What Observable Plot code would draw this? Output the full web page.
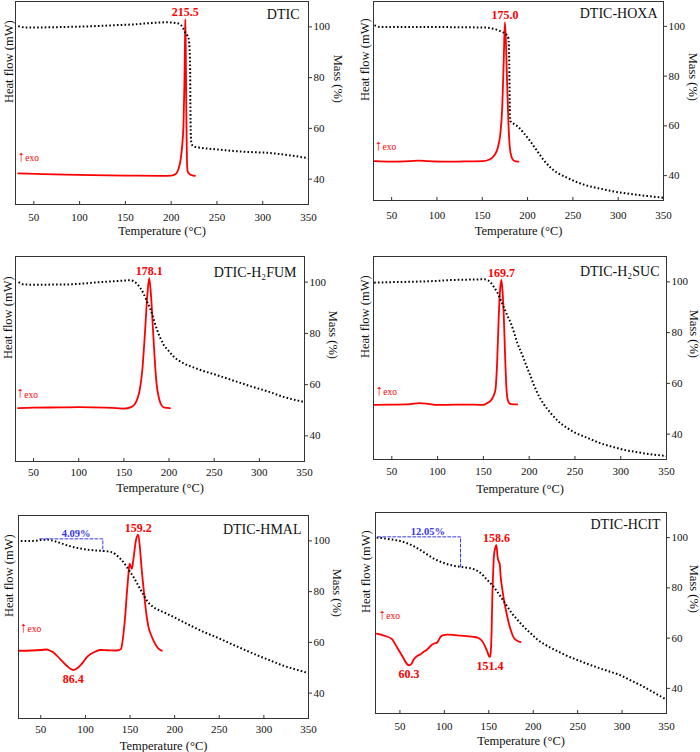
<!DOCTYPE html>
<html>
<head>
<meta charset="utf-8">
<script src="https://cdn.jsdelivr.net/npm/d3@7"></script>
<script src="https://cdn.jsdelivr.net/npm/@observablehq/plot@0.6"></script>
<style>
  body { margin: 0; background: #fff; }
  #wrap { position: relative; width: 700px; height: 752px; font-family: "Liberation Serif", "Times New Roman", serif; }
  #wrap > div { position: absolute; }
  #wrap svg { display: block; font-family: "Liberation Serif", "Times New Roman", serif !important; }
  #wrap svg text { font-family: "Liberation Serif", "Times New Roman", serif; }
</style>
</head>
<body>
<div id="wrap"></div>
<script>
// ---------- shared tick labels ----------
const xTicks = [50, 100, 150, 200, 250, 300, 350];
const massTicks = [40, 60, 80, 100];

// ---------- DTIC ----------
const dticTgaT = [33, 40, 60, 88, 110, 141, 160, 177, 195, 206, 210, 213, 215, 217, 219, 220, 220.7, 221, 221.4, 222, 224, 230, 250, 268, 290, 305, 320, 335, 350];
const dticMass = [100.3, 99.8, 99.8, 100, 100.2, 100.7, 101, 101.5, 101.8, 101.5, 101, 99.5, 98, 97, 95.5, 92, 84, 70, 58, 54.5, 53, 52.5, 51.7, 51.1, 50.6, 50.4, 49.8, 49.1, 48.2];
const dticDscT = [33, 60, 100, 150, 190, 200, 205, 208, 210, 212, 213.5, 214.5, 215.2, 215.5, 216, 216.6, 217.2, 218, 220, 223, 226];
const dticHeat = [42.3, 42.0, 41.7, 41.4, 41.3, 41.4, 42.0, 44, 47, 53, 62, 78, 97, 103, 90, 65, 48, 43, 42, 41.5, 41.3];
const dticPeaks = [215.5];

// ---------- DTIC-HOXA ----------
const hoxaTgaT = [31, 33, 36, 50, 80, 110, 140, 155, 160, 165, 170, 174, 177, 179, 179.8, 180.3, 181, 185, 190, 196, 203, 211, 218, 226, 235, 244, 253, 262, 272, 281, 290, 300, 310, 320, 335, 350];
const hoxaMass = [100.4, 100.2, 99.8, 99.7, 99.7, 99.7, 99.6, 99.5, 99.2, 98.8, 98.1, 97.4, 96.5, 95, 85, 70, 62, 60.8, 59.5, 57, 53.8, 49.7, 46.2, 43, 40.7, 39.1, 37.6, 36.4, 35.4, 34.7, 34, 33.3, 32.8, 32.3, 31.7, 31.1];
const hoxaDscT = [31, 50, 70, 80, 90, 110, 130, 150, 158, 163, 167, 170, 172, 173.7, 175, 176.3, 177.5, 179, 180.5, 182.5, 185, 190];
const hoxaHeat = [45.8, 45.6, 45.8, 46.0, 45.8, 45.6, 45.7, 45.8, 46.5, 48, 51, 57, 67, 86, 101.7, 92, 76, 60, 51, 47.3, 46, 45.6];
const hoxaPeaks = [175.0];

// ---------- DTIC-H2FUM ----------
const fumTgaT = [33.4, 36, 39, 50, 87, 124, 145, 157, 161, 164.5, 168, 172, 175.5, 179.3, 183, 186.7, 190, 194, 200, 205, 210, 216, 225, 235, 253, 272, 290, 309, 327, 350];
const fumMass = [100, 99.5, 99.1, 99.0, 99.1, 100, 100.5, 100.7, 100.3, 99.3, 97.8, 95.4, 92.5, 89.5, 85.5, 81.5, 78.5, 75.6, 73, 71, 69.6, 68.3, 67, 65.7, 63.7, 61.5, 59.4, 57.4, 55.2, 53.2];
const fumDscT = [33, 50, 80, 100, 130, 142, 150, 158, 162, 165, 167.5, 170.5, 173.3, 176, 178.1, 180, 182.5, 184.5, 186.2, 189, 191.7, 195, 201];
const fumHeat = [50.8, 51.0, 51.1, 51.2, 51.0, 50.8, 50.6, 51.2, 52.3, 54.5, 57.8, 66, 80, 95, 101.6, 95, 80, 68, 60.4, 54.5, 51.9, 51, 50.8];
const fumPeaks = [178.1];

// ---------- DTIC-H2SUC ----------
const sucTgaT = [30.7, 50, 78, 100, 114, 135, 150.7, 155, 158, 161.5, 165.3, 169, 172.5, 176, 179.8, 183.5, 187, 190.7, 194.4, 198, 201.6, 205, 209, 216, 223.5, 232, 241.6, 250, 259.8, 269, 278, 287, 296.2, 305, 314.4, 330, 350];
const sucMass = [99.7, 99.9, 100.1, 100.4, 100.7, 100.9, 101, 100.6, 99.7, 98, 95.8, 92.8, 89.8, 86.8, 83.9, 80, 76, 72.7, 69.4, 66, 62.8, 59.5, 56.2, 51.8, 48.3, 45, 42.4, 40.6, 39.1, 37.7, 36.4, 35.4, 34.5, 33.7, 33.1, 32.2, 31.4];
const sucDscT = [31, 50, 70, 80, 90, 100, 120, 140, 150, 154, 158, 161, 163.2, 165, 166.8, 168.5, 169.7, 171, 172.3, 174, 175.3, 177, 180, 187];
const sucHeat = [51.5, 51.6, 51.8, 52.2, 51.9, 51.5, 51.6, 51.6, 51.5, 52.2, 53.2, 55, 57.5, 68, 86.5, 98, 100.8, 96, 86.5, 68, 57.5, 53, 51.8, 51.7];
const sucPeaks = [169.7];

// ---------- DTIC-HMAL ----------
const malTgaT = [27.6, 35, 41.8, 50, 56.7, 62, 68, 74, 79, 86, 94, 101, 109, 116, 124, 128, 131.4, 135, 139, 142.7, 146.4, 150, 153.8, 157.5, 161.3, 165, 168.8, 172.5, 176.3, 183, 191.2, 200, 210, 219, 228.6, 238, 247.2, 256.5, 265.9, 275, 284.6, 294, 303.3, 312.5, 322, 335, 350];
const malMass = [100, 100, 100, 100.3, 100.5, 100.2, 99.6, 98.9, 98.3, 97.6, 97, 96.6, 96.3, 96.1, 95.9, 95.7, 95.3, 94.3, 93, 91.5, 89.7, 87.8, 85.8, 83.5, 81.1, 78.8, 76.5, 75, 73.9, 72.6, 71.3, 69.8, 68, 66.4, 64.7, 63.3, 62, 60.5, 59, 57.6, 56.1, 54.7, 53.4, 52.1, 50.8, 49.4, 47.9];
const malDscT = [25.5, 40, 50, 56.7, 60, 64.2, 68, 71.7, 75.5, 79, 83, 86.4, 90, 94, 98, 101.5, 105, 109, 116.5, 125, 135, 139.6, 141, 142.6, 144.5, 146.4, 148, 149.4, 150.7, 152, 153.3, 154.6, 156.5, 159.2, 161.3, 163, 165, 168, 170.7, 173.5, 176.3, 180.7, 185.6];
const malHeat = [56.7, 56.8, 57.0, 57.2, 56.8, 56, 54.8, 53.4, 52, 50.8, 49.6, 49.1, 49.6, 50.8, 52.5, 54.1, 55.2, 56, 57, 56.9, 56.8, 57.3, 59, 63.3, 70, 79.2, 86, 91, 90, 89, 91.5, 95, 100, 102.5, 96.3, 89, 81.8, 72, 66, 63, 60.7, 58, 56.7];
const malPeaks = [159.2];
const malDips = [86.4];
const malLossT = [49, 119.5, 119.5];
const malLossMass = [100.8, 100.8, 95.9];
const malLossText = "4.09%";

// ---------- DTIC-HCIT ----------
const citTgaT = [23.8, 30, 39.5, 45, 50.8, 56, 62, 67.5, 73.2, 79, 84.5, 90, 95.7, 101, 107, 112, 118.2, 124, 129.5, 134, 138.9, 143.5, 148.2, 152, 155.7, 159.5, 163.2, 167, 170.7, 176, 182, 187.5, 193.2, 199, 204.5, 212, 219.5, 229, 238.2, 247.5, 257, 266, 275.7, 285, 294.5, 304, 313.2, 322.5, 332, 341, 350];
const citMass = [100, 99.8, 99.3, 99, 98.6, 98, 97.2, 96.2, 95, 93.7, 92.4, 91.3, 90.4, 89.7, 89.1, 88.7, 88.4, 88.1, 87.8, 87.3, 86.4, 85, 83.2, 81.8, 80.3, 78.5, 76.6, 74.6, 72.6, 69.9, 67.4, 65.2, 63.2, 61.3, 59.5, 57.7, 56.2, 54.5, 52.9, 51.6, 50.3, 49.1, 47.9, 46.8, 45.7, 44.2, 42.6, 41, 39.1, 37.3, 35.5];
const citDscT = [23.8, 32, 41.4, 44, 47, 52.6, 58.2, 60.3, 63, 65.7, 70, 73.2, 76, 80.7, 86.4, 89, 92, 94, 95.7, 99, 103.2, 110, 118.2, 125, 133.2, 137, 140.7, 143.5, 146.4, 148.5, 150.1, 151.4, 152.3, 153.2, 153.9, 154.8, 155.7, 157, 158.6, 160, 161.2, 162.3, 163.5, 165, 167, 170.7, 174.5, 178.2, 182, 185.7];
const citHeat = [61.8, 61, 59.5, 58, 56.2, 52.9, 49.6, 49.2, 49.8, 51.6, 53, 53.6, 54.4, 55.5, 57.5, 57.9, 58.2, 59.5, 60.5, 61.2, 61.4, 61.3, 61, 60.8, 60.5, 60.2, 59.5, 58.3, 56.2, 54.5, 52.9, 52.5, 55, 63, 75.3, 85, 92.4, 95.5, 97, 92, 90.5, 89.5, 84, 80, 75.3, 68.7, 63.4, 60.1, 59, 58.4];
const citPeaks = [158.6];
const citDips = [60.3, 151.4];
const citLossT = [25, 118.2, 118.2];
const citLossMass = [100.3, 100.3, 88.4];
const citLossText = "12.05%";

// ---------- layout per panel ----------
const panels = [
  {name: "DTIC", left: 0, top: 0, h: 250, mL: 15, mR: 42, mT: 1, mB: 46, x0: 30,
   tgaT: dticTgaT, tgaM: dticMass, dscT: dticDscT, dscH: dticHeat, peaks: dticPeaks, dips: [],
   exo: [36.2, 48.7], nameDx: -9, nameDy: 13, tickPad: 9, xLabDy: 26, massDx: 29, heatDx: -7},
  {name: "DTIC-HOXA", left: 350, top: 0, h: 250, mL: 23, mR: 37, mT: 1, mB: 50, x0: 30,
   tgaT: hoxaTgaT, tgaM: hoxaMass, dscT: hoxaDscT, dscH: hoxaHeat, peaks: hoxaPeaks, dips: [],
   exo: [35.6, 52], nameDx: -6, nameDy: 12, tickPad: 11, xLabDy: 30, massDx: 29, heatDx: -9},
  {name: "DTIC-H\u2082FUM", left: 0, top: 250, h: 250, mL: 15, mR: 46, mT: 6, mB: 39, x0: 30,
   tgaT: fumTgaT, tgaM: fumMass, dscT: fumDscT, dscH: fumHeat, peaks: fumPeaks, dips: [],
   exo: [35.2, 56.5], nameDx: -8, nameDy: 16, tickPad: 7, xLabDy: 26, massDx: 28, heatDx: -8},
  {name: "DTIC-H\u2082SUC", left: 350, top: 250, h: 250, mL: 23, mR: 34, mT: 6, mB: 41, x0: 30,
   tgaT: sucTgaT, tgaM: sucMass, dscT: sucDscT, dscH: sucHeat, peaks: sucPeaks, dips: [],
   exo: [36.2, 56.9], nameDx: -7, nameDy: 15, tickPad: 8, xLabDy: 29, massDx: 27, heatDx: -9},
  {name: "DTIC-HMAL", left: 0, top: 500, h: 252, mL: 18, mR: 42, mT: 15, mB: 34, x0: 25,
   tgaT: malTgaT, tgaM: malMass, dscT: malDscT, dscH: malHeat, peaks: malPeaks, dips: malDips,
   lossT: malLossT, lossM: malLossMass, lossText: malLossText, lossLabelT: 89.6,
   exo: [30.6, 65.6], nameDx: -7, nameDy: 14, tickPad: 7, xLabDy: 27, massDx: 28, heatDx: -10},
  {name: "DTIC-HCIT", left: 350, top: 500, h: 252, mL: 25, mR: 34, mT: 12, mB: 39, x0: 22.5,
   tgaT: citTgaT, tgaM: citMass, dscT: citDscT, dscH: citHeat, peaks: citPeaks, dips: citDips,
   lossT: citLossT, lossM: citLossMass, lossText: citLossText, lossLabelT: 81.5,
   exo: [30.1, 69.3], nameDx: -6, nameDy: 12, tickPad: 9, xLabDy: 27, massDx: 27, heatDx: -10}
];

function interp(T, V, t) {
  const i = d3.bisectLeft(T, t);
  if (i <= 0) return V[0];
  if (i >= T.length) return V[V.length - 1];
  const f = (t - T[i - 1]) / (T[i] - T[i - 1]);
  return V[i - 1] + f * (V[i] - V[i - 1]);
}

const FONT = '"Liberation Serif", "Times New Roman", serif';
const RED = "#ff0000";
const BLUE = "#3737ee";

function buildPanel(p) {
  const innerH = p.h - p.mT - p.mB;
  const tga = p.tgaT.map((t, i) => ({t, v: p.tgaM[i]}));
  const dsc = p.dscT.map((t, i) => ({t, v: p.dscH[i]}));
  const peakLab = p.peaks.map(t => ({t, v: interp(p.dscT, p.dscH, t), s: t.toFixed(1)}));
  const dipLab = p.dips.map(t => ({t, v: interp(p.dscT, p.dscH, t), s: t.toFixed(1)}));
  const F = {fontFamily: FONT};
  const marks = [
    Plot.line(dsc, {x: "t", y: "v", stroke: RED, strokeWidth: 1.8, curve: "monotone-x"}),
    Plot.line(tga, {x: "t", y: "v", stroke: "#000", strokeWidth: 2, strokeDasharray: "1.6,2.2", strokeLinecap: "butt", curve: "monotone-x"}),
    Plot.frame({stroke: "#333", strokeWidth: 1}),
    Plot.tickX(xTicks, {x: d => d, insetTop: innerH - 3, stroke: "#333"}),
    Plot.axisX({ticks: xTicks, tickSize: 0, tickPadding: p.tickPad, label: null, fontSize: 11, ...F}),
    Plot.axisY({anchor: "right", ticks: massTicks, tickSize: 3, tickPadding: 2, label: null, fontSize: 11, stroke: "#333", ...F}),
    Plot.text(["Temperature (\u00B0C)"], {frameAnchor: "bottom", dy: p.xLabDy, text: d => d, fontSize: 12.5, lineAnchor: "middle", ...F}),
    Plot.text(["Mass (%)"], {frameAnchor: "right", dx: p.massDx, text: d => d, rotate: 90, fontSize: 12.5, lineAnchor: "middle", ...F}),
    Plot.text(["Heat flow (mW)"], {frameAnchor: "left", dx: p.heatDx, text: d => d, rotate: -90, fontSize: 12.5, lineAnchor: "middle", ...F}),
    Plot.text([p.name], {frameAnchor: "top-right", dx: p.nameDx, dy: p.nameDy, text: d => d, fontSize: 14, textAnchor: "end", lineAnchor: "middle", ...F}),
    Plot.text(peakLab, {x: "t", y: "v", text: "s", fill: RED, fontWeight: "bold", fontSize: 12, lineAnchor: "bottom", dy: -3, ...F}),
    Plot.text(dipLab, {x: "t", y: "v", text: "s", fill: RED, fontWeight: "bold", fontSize: 12, lineAnchor: "top", dy: 4, ...F}),
    Plot.text([{t: p.exo[0], v: p.exo[1]}], {x: "t", y: "v", text: () => "\u2191", fill: RED, fontSize: 15, fontWeight: "bold", lineAnchor: "middle", dy: -1, ...F}),
    Plot.text([{t: p.exo[0], v: p.exo[1]}], {x: "t", y: "v", text: () => "exo", fill: RED, fontSize: 9.5, textAnchor: "start", lineAnchor: "middle", dx: 4, dy: 1, ...F})
  ];
  if (p.lossT) {
    const loss = p.lossT.map((t, i) => ({t, v: p.lossM[i]}));
    marks.push(
      Plot.line(loss, {x: "t", y: "v", stroke: BLUE, strokeWidth: 1, strokeDasharray: "3,2"}),
      Plot.text([{t: p.lossLabelT, v: p.lossM[0], s: p.lossText}], {x: "t", y: "v", text: "s", fill: BLUE, fontWeight: "bold", fontSize: 10.5, lineAnchor: "bottom", dy: -1.5, ...F})
    );
  }
  const svg = Plot.plot({
    width: 350,
    height: p.h,
    marginLeft: p.mL,
    marginRight: p.mR,
    marginTop: p.mT,
    marginBottom: p.mB,
    x: {domain: [p.x0, 350]},
    y: {domain: [30, 110]},
    style: {fontFamily: FONT, fontSize: "11px", background: "transparent", color: "#111", overflow: "visible"},
    marks
  });
  const div = document.createElement("div");
  div.style.left = p.left + "px";
  div.style.top = p.top + "px";
  div.appendChild(svg);
  document.getElementById("wrap").appendChild(div);
}

panels.forEach(buildPanel);
</script>
</body>
</html>
